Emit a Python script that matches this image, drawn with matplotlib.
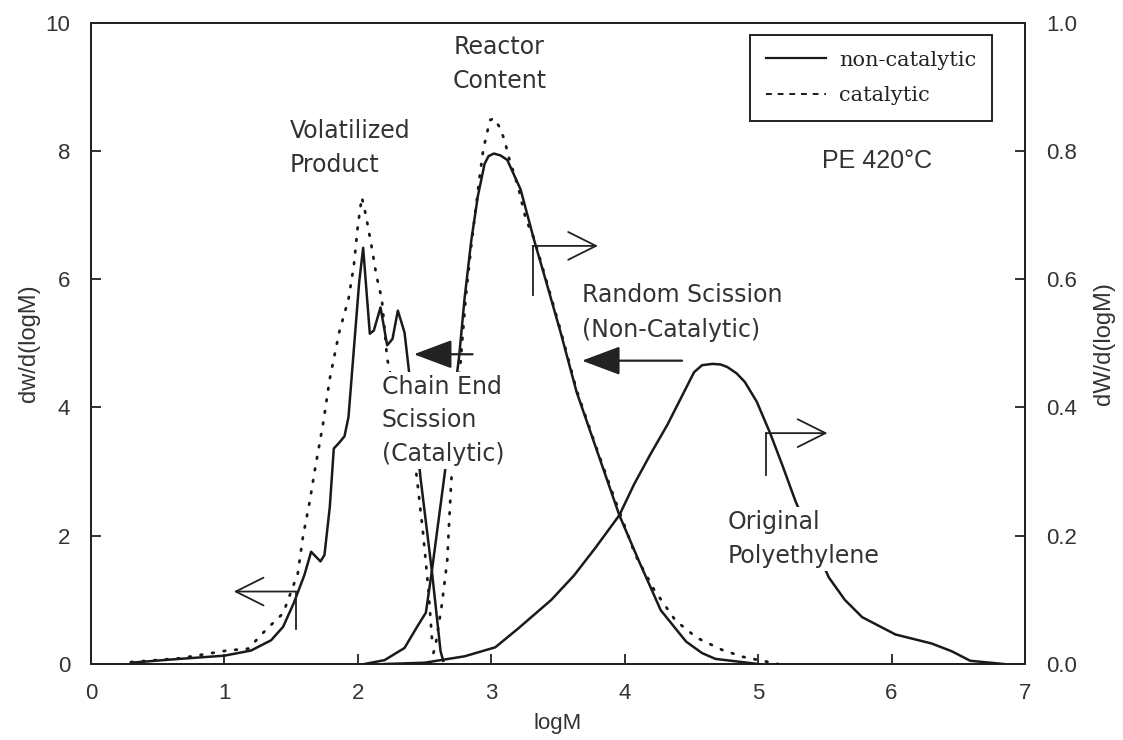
import matplotlib
matplotlib.use('Agg')
import matplotlib.pyplot as plt
from matplotlib.lines import Line2D

# ---- data ----
# Volatilized product, non-catalytic (left axis)
vol_x = [0.30, 0.60, 1.00, 1.20, 1.35, 1.44, 1.52, 1.60, 1.65, 1.72, 1.75, 1.79, 1.82,
         1.86, 1.90, 1.93, 1.97, 2.01, 2.04, 2.06, 2.09, 2.12, 2.17, 2.22, 2.26, 2.30,
         2.35, 2.38, 2.43, 2.47, 2.555, 2.62, 2.64]
vol_nc = [0.02, 0.07, 0.13, 0.21, 0.37, 0.58, 0.95, 1.39, 1.75, 1.60, 1.70, 2.45, 3.36,
          3.45, 3.55, 3.85, 4.90, 5.95, 6.49, 5.95, 5.15, 5.20, 5.56, 4.97, 5.07, 5.51,
          5.17, 4.63, 3.70, 2.90, 1.45, 0.20, 0.05]
# Volatilized product, catalytic (left axis)
volc_x = [0.30, 0.67, 1.02, 1.18, 1.31, 1.44, 1.55, 1.59, 1.64, 1.68, 1.74, 1.79, 1.86,
          1.93, 1.97, 2.00, 2.03, 2.06, 2.10, 2.14, 2.18, 2.22, 2.30, 2.38, 2.44, 2.49,
          2.53, 2.56]
vol_cat = [0.03, 0.09, 0.21, 0.24, 0.53, 0.79, 1.41, 2.00, 2.54, 3.05, 3.75, 4.45, 5.17,
           5.69, 6.21, 6.83, 7.28, 7.00, 6.55, 6.05, 5.69, 4.76, 4.00, 3.40, 2.95, 2.02,
           1.14, 0.26]
# Reactor content, non-catalytic (right axis)
rc_x = [2.05, 2.20, 2.35, 2.45, 2.51, 2.555, 2.65, 2.76, 2.80, 2.85, 2.90, 2.95, 2.98,
        3.02, 3.07, 3.12, 3.22, 3.32, 3.42, 3.52, 3.64, 3.78, 3.91, 3.96, 4.11, 4.27,
        4.46, 4.58, 4.68, 4.92, 5.00]
rc_nc = [0.000, 0.006, 0.025, 0.060, 0.080, 0.145, 0.295, 0.481, 0.570, 0.660, 0.730,
         0.780, 0.792, 0.796, 0.793, 0.786, 0.740, 0.662, 0.590, 0.517, 0.424, 0.340,
         0.262, 0.232, 0.159, 0.084, 0.035, 0.017, 0.008, 0.002, 0.000]
# Reactor content, catalytic (right axis)
rcc_x = [2.54, 2.58, 2.63, 2.67, 2.70, 2.74, 2.78, 2.81, 2.85, 2.91, 2.94, 2.99, 3.02,
         3.06, 3.10, 3.13, 3.20, 3.26, 3.32, 3.42, 3.52, 3.64, 3.78, 3.91, 4.08, 4.22,
         4.38, 4.54, 4.73, 4.89, 5.08, 5.15]
rc_cat = [0.000, 0.026, 0.093, 0.161, 0.285, 0.390, 0.497, 0.574, 0.652, 0.755, 0.802,
          0.848, 0.851, 0.838, 0.817, 0.791, 0.745, 0.693, 0.664, 0.593, 0.520, 0.427,
          0.342, 0.266, 0.170, 0.116, 0.068, 0.041, 0.022, 0.011, 0.003, 0.000]
# Original polyethylene (right axis)
pe_x = [2.20, 2.50, 2.80, 3.03, 3.20, 3.45, 3.62, 3.78, 3.96, 4.07, 4.19, 4.32, 4.42,
        4.52, 4.58, 4.66, 4.72, 4.77, 4.84, 4.90, 4.99, 5.09, 5.18, 5.28, 5.40, 5.53,
        5.65, 5.78, 6.03, 6.30, 6.45, 6.59, 6.84]
pe = [0.000, 0.002, 0.012, 0.026, 0.055, 0.100, 0.138, 0.181, 0.232, 0.280, 0.326,
      0.373, 0.414, 0.455, 0.466, 0.468, 0.467, 0.463, 0.453, 0.440, 0.409, 0.360,
      0.311, 0.254, 0.195, 0.135, 0.100, 0.073, 0.046, 0.032, 0.020, 0.005, 0.000]

x_ticks = [0, 1, 2, 3, 4, 5, 6, 7]
yl_ticks = [0, 2, 4, 6, 8, 10]
yr_ticks = [0.0, 0.2, 0.4, 0.6, 0.8, 1.0]

TICKFONT = 'Liberation Sans'
ANNFONT = 'DejaVu Sans'

fig = plt.figure(figsize=(11.23, 7.40), dpi=100)
ax = fig.add_axes([0.081, 0.1027, 0.8317, 0.8666])
ax2 = ax.twinx()

solid = dict(color='#1a1a1a', lw=1.8, solid_joinstyle='round')
dotted = dict(color='#1a1a1a', lw=2.0, linestyle=(0, (0.6, 3.6)), dash_capstyle='round')

ax.plot(vol_x, vol_nc, **solid, zorder=3)
ax.plot(volc_x, vol_cat, **dotted, zorder=3)
ax2.plot(rc_x, rc_nc, **solid, zorder=3)
ax2.plot(rcc_x, rc_cat, **dotted, zorder=3)
ax2.plot(pe_x, pe, **solid, zorder=3)

ax.set_xlim(0, 7)
ax.set_ylim(0, 10)
ax2.set_ylim(0, 1.0)
ax.set_xticks(x_ticks)
ax.set_yticks(yl_ticks)
ax2.set_yticks(yr_ticks)
ax.set_xticklabels([str(v) for v in x_ticks], fontsize=16, family=TICKFONT)
ax.set_yticklabels([str(v) for v in yl_ticks], fontsize=16, family=TICKFONT)
ax2.set_yticklabels(['%.1f' % v for v in yr_ticks], fontsize=16, family=TICKFONT)
ax.tick_params(axis='both', direction='in', length=7, width=1.3, color='#222222', labelcolor='#333333')
ax.tick_params(axis='x', pad=14)
ax.tick_params(axis='y', pad=15)
ax2.tick_params(axis='y', direction='in', length=7, width=1.3, color='#222222', labelcolor='#333333', pad=15)
ax.tick_params(top=False)
for a in (ax, ax2):
    for s in a.spines.values():
        s.set_linewidth(1.4)
        s.set_color('#222222')

ax.set_xlabel('logM', fontsize=16, family=TICKFONT, color='#333333', labelpad=6)
ax.set_ylabel('dw/d(logM)', fontsize=17, family=TICKFONT, color='#333333', labelpad=4)
ax2.set_ylabel('dW/d(logM)', fontsize=17, family=TICKFONT, color='#333333', labelpad=12)

# Annotations drawn on the top (twin) axes, positioned in left-axis data coords
T = ax.transData
tc = '#333333'
ax2.text(1.49, 8.05, 'Volatilized\nProduct', transform=T, fontsize=17, family=ANNFONT, color=tc,
         ha='left', va='center', linespacing=1.55, zorder=5)
ax2.text(3.06, 9.36, 'Reactor\nContent', transform=T, fontsize=17, family=ANNFONT, color=tc,
         ha='center', va='center', linespacing=1.55, zorder=5)
ax2.text(2.18, 3.8, 'Chain End\nScission\n(Catalytic)', transform=T, fontsize=17, family=ANNFONT,
         color=tc, ha='left', va='center', linespacing=1.5, zorder=5,
         bbox=dict(facecolor='white', edgecolor='none', pad=2))
ax2.text(3.68, 5.48, 'Random Scission\n(Non-Catalytic)', transform=T, fontsize=17, family=ANNFONT,
         color=tc, ha='left', va='center', linespacing=1.6, zorder=5)
ax2.text(4.77, 1.95, 'Original\nPolyethylene', transform=T, fontsize=17, family=ANNFONT, color=tc,
         ha='left', va='center', linespacing=1.5, zorder=5,
         bbox=dict(facecolor='white', edgecolor='none', pad=2))
ax2.text(5.48, 7.85, 'PE 420\u00b0C', transform=T, fontsize=18, family=TICKFONT, color=tc,
         ha='left', va='center', zorder=5)

# arrows
lc = '#222222'
open_head = dict(arrowstyle='->,head_length=1.0,head_width=0.5', color=lc, lw=1.3,
                 shrinkA=0, shrinkB=0, mutation_scale=20)
filled_head = dict(arrowstyle='-|>,head_length=1.2,head_width=0.45', color=lc, lw=1.6,
                   shrinkA=0, shrinkB=0, mutation_scale=20)
# volatilized -> left axis
ax2.annotate('', xy=(1.07, 1.13), xytext=(1.54, 1.13), xycoords=T, textcoords=T,
             arrowprops=open_head, zorder=4)
ax2.plot([1.54, 1.54], [0.113, 0.055], color=lc, lw=1.3, zorder=4)
# reactor -> right axis
ax2.annotate('', xy=(3.80, 6.52), xytext=(3.31, 6.52), xycoords=T, textcoords=T,
             arrowprops=open_head, zorder=4)
ax2.plot([3.31, 3.31], [0.652, 0.575], color=lc, lw=1.3, zorder=4)
# PE -> right axis
ax2.annotate('', xy=(5.52, 3.60), xytext=(5.06, 3.60), xycoords=T, textcoords=T,
             arrowprops=open_head, zorder=4)
ax2.plot([5.06, 5.06], [0.360, 0.295], color=lc, lw=1.3, zorder=4)
# chain end scission arrow (filled)
ax2.annotate('', xy=(2.42, 4.83), xytext=(2.86, 4.83), xycoords=T, textcoords=T,
             arrowprops=filled_head, zorder=6)
# random scission arrow (filled)
ax2.annotate('', xy=(3.68, 4.73), xytext=(4.43, 4.73), xycoords=T, textcoords=T,
             arrowprops=filled_head, zorder=6)

# legend
handles = [Line2D([], [], color='#1a1a1a', lw=1.6),
           Line2D([], [], color='#1a1a1a', lw=1.4, linestyle=(0, (3, 3)))]
leg = ax2.legend(handles, ['non-catalytic', 'catalytic'], loc='upper left',
                 bbox_to_anchor=(0.706, 0.981), borderaxespad=0, frameon=True,
                 fancybox=False, edgecolor='#222222', framealpha=1,
                 prop={'family': 'DejaVu Serif', 'size': 15},
                 handlelength=2.9, handletextpad=0.6, labelspacing=0.8,
                 borderpad=0.75)
leg.get_frame().set_linewidth(1.4)
leg.set_zorder(10)
for t in leg.get_texts():
    t.set_color('#222222')

fig.savefig('out.png', dpi=100, facecolor='white')
